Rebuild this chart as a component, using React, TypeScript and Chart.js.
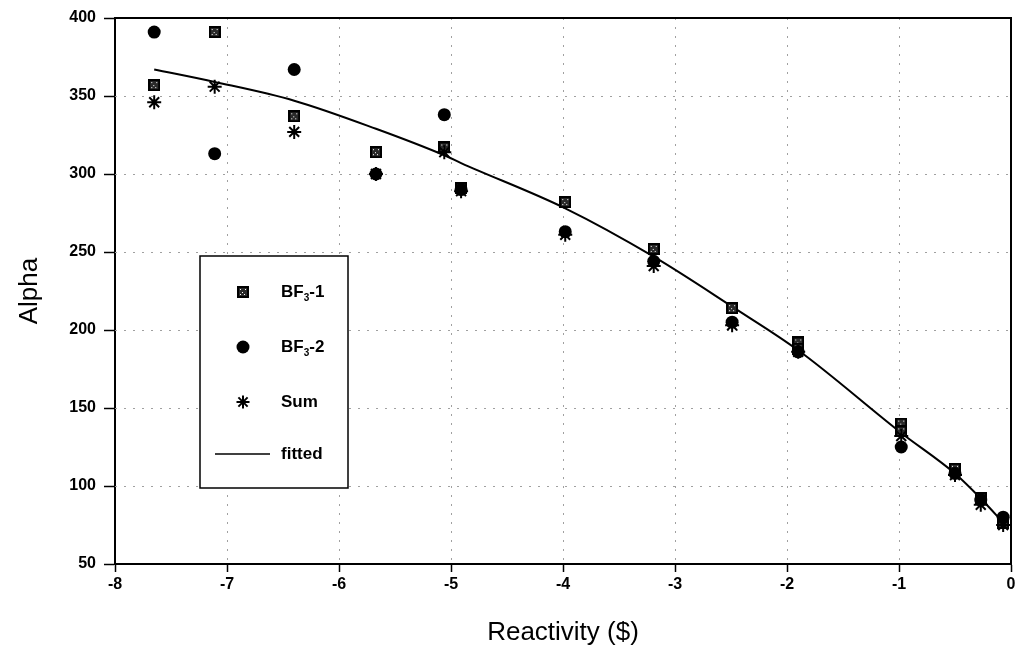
import React, { useEffect, useRef } from "react";
import { Chart, registerables } from "chart.js";

Chart.register(...registerables);

const xValues = [-7.65, -7.11, -6.40, -5.67, -5.06, -4.91, -3.98, -3.19, -2.49, -1.90, -0.98, -0.50, -0.27, -0.07];
const bf1Values = [357, 391, 337, 314, 317, 291, 282, 252, 214, 192, 140, 111, 92, 76];
const bf1ExtraX = [-0.98, -1.90];
const bf1ExtraY = [135, 188];
const bf2Values = [391, 313, 367, 300, 338, 290, 263, 244, 205, 186, 125, 108, 91, 80];
const sumValues = [346, 356, 327, 300, 314, 289, 261, 241, 203, 186, 132, 107, 88, 75];
const fitX = [-7.65, -7.11, -6.40, -5.67, -5.06, -4.91, -3.98, -3.19, -2.49, -1.90, -0.98, -0.50, -0.27, -0.05];
const fitY = [367, 359, 347, 329, 312, 307, 278, 247, 215, 187, 134, 108, 92, 75];
const xTicks = [-8, -7, -6, -5, -4, -3, -2, -1, 0];
const yTicks = [50, 100, 150, 200, 250, 300, 350, 400];

const FONT = "'Liberation Sans', Arial, Helvetica, sans-serif";

function makeSquare(): HTMLCanvasElement {
  const c = document.createElement("canvas");
  c.width = 12;
  c.height = 12;
  const g = c.getContext("2d")!;
  g.fillStyle = "#000";
  g.fillRect(0, 0, 12, 12);
  g.fillStyle = "#2a2a2a";
  g.fillRect(2, 2, 8, 8);
  g.fillStyle = "#fff";
  g.fillRect(3, 3, 1, 1);
  g.fillRect(8, 3, 1, 1);
  g.fillRect(5, 6, 1, 1);
  g.fillRect(3, 8, 1, 1);
  g.fillRect(7, 8, 1, 1);
  return c;
}

function pts(xs: number[], ys: number[]) {
  return xs.map((x, i) => ({ x, y: ys[i] }));
}

export default function App() {
  const ref = useRef<HTMLCanvasElement | null>(null);

  useEffect(() => {
    if (!ref.current) return;
    const square = makeSquare();

    const framePlugin = {
      id: "frameAndGrid",
      beforeDatasetsDraw(chart: any) {
        const { ctx, chartArea: a, scales } = chart;
        ctx.save();
        ctx.strokeStyle = "#a0a0a0";
        ctx.lineWidth = 1;
        ctx.setLineDash([2, 7]);
        for (const t of xTicks) {
          if (t === -8 || t === 0) continue;
          const px = Math.round(scales.x.getPixelForValue(t)) + 0.5;
          ctx.beginPath();
          ctx.moveTo(px, a.top);
          ctx.lineTo(px, a.bottom);
          ctx.stroke();
        }
        for (const t of yTicks) {
          if (t === 50 || t === 400) continue;
          const py = Math.round(scales.y.getPixelForValue(t)) + 0.5;
          ctx.beginPath();
          ctx.moveTo(a.left, py);
          ctx.lineTo(a.right, py);
          ctx.stroke();
        }
        ctx.restore();
      },
      afterDraw(chart: any) {
        const { ctx, chartArea: a } = chart;
        ctx.save();
        ctx.strokeStyle = "#000";
        ctx.lineWidth = 2;
        ctx.setLineDash([]);
        ctx.beginPath();
        ctx.moveTo(a.left, a.top);
        ctx.lineTo(a.right, a.top);
        ctx.lineTo(a.right, a.bottom);
        ctx.stroke();

        // legend
        const L = 200, T = 256, R = 348, B = 488;
        ctx.fillStyle = "#fff";
        ctx.fillRect(L, T, R - L, B - T);
        ctx.lineWidth = 1.5;
        ctx.strokeRect(L, T, R - L, B - T);

        const mx = 243;
        const tx = 281;
        const rows = [292, 347, 402, 454];
        ctx.drawImage(square, mx - 6, rows[0] - 6);
        ctx.fillStyle = "#000";
        ctx.beginPath();
        ctx.arc(mx, rows[1], 6.5, 0, Math.PI * 2);
        ctx.fill();
        ctx.lineWidth = 2;
        const r = 6.5;
        ctx.beginPath();
        ctx.moveTo(mx - r, rows[2]);
        ctx.lineTo(mx + r, rows[2]);
        ctx.moveTo(mx, rows[2] - r);
        ctx.lineTo(mx, rows[2] + r);
        const d = r * Math.SQRT1_2;
        ctx.moveTo(mx - d, rows[2] - d);
        ctx.lineTo(mx + d, rows[2] + d);
        ctx.moveTo(mx - d, rows[2] + d);
        ctx.lineTo(mx + d, rows[2] - d);
        ctx.stroke();
        ctx.lineWidth = 1.5;
        ctx.beginPath();
        ctx.moveTo(215, rows[3]);
        ctx.lineTo(270, rows[3]);
        ctx.stroke();

        ctx.textBaseline = "middle";
        ctx.textAlign = "left";
        const big = `bold 17px ${FONT}`;
        const small = `bold 10px ${FONT}`;
        const drawBF = (suffix: string, y: number) => {
          ctx.font = big;
          ctx.fillText("BF", tx, y);
          let w = ctx.measureText("BF").width;
          ctx.font = small;
          ctx.fillText("3", tx + w, y + 6);
          w += ctx.measureText("3").width;
          ctx.font = big;
          ctx.fillText(suffix, tx + w, y);
        };
        drawBF("-1", rows[0]);
        drawBF("-2", rows[1]);
        ctx.font = big;
        ctx.fillText("Sum", tx, rows[2]);
        ctx.fillText("fitted", tx, rows[3]);
        ctx.restore();
      },
    };

    const chart = new Chart(ref.current, {
      type: "scatter",
      data: {
        datasets: [
          {
            label: "fitted",
            type: "line",
            data: pts(fitX, fitY),
            borderColor: "#000",
            borderWidth: 2,
            pointRadius: 0,
            showLine: true,
            fill: false,
            cubicInterpolationMode: "monotone",
            order: 4,
          } as any,
          {
            label: "BF3-1",
            data: pts(xValues.concat(bf1ExtraX), bf1Values.concat(bf1ExtraY)),
            pointStyle: square,
            pointRadius: 6,
            order: 3,
          },
          {
            label: "BF3-2",
            data: pts(xValues, bf2Values),
            pointStyle: "circle",
            pointRadius: 6.5,
            backgroundColor: "#000",
            borderColor: "#000",
            borderWidth: 0,
            order: 2,
          },
          {
            label: "Sum",
            data: pts(xValues, sumValues),
            pointStyle: "star",
            pointRadius: 7,
            borderColor: "#000",
            backgroundColor: "#000",
            borderWidth: 2,
            order: 1,
          },
        ],
      },
      options: {
        responsive: false,
        animation: false,
        layout: { padding: { top: 18, right: 6, left: 0, bottom: 0 } },
        plugins: {
          legend: { display: false },
          tooltip: { enabled: false },
          title: { display: false },
        },
        scales: {
          x: {
            type: "linear",
            min: -8,
            max: 0,
            afterBuildTicks: (s: any) => {
              s.ticks = xTicks.map((v) => ({ value: v }));
            },
            afterFit: (s: any) => {
              s.height = 90;
              s.paddingRight = 0;
              s.paddingLeft = 0;
            },
            grid: {
              drawOnChartArea: false,
              drawTicks: true,
              tickLength: 8,
              tickColor: "#000",
              tickWidth: 1.5,
            },
            border: { display: true, color: "#000", width: 2 },
            ticks: {
              color: "#000",
              padding: 3,
              font: { family: FONT, size: 16, weight: "bold" },
              callback: (v: any) => String(v),
            },
            title: {
              display: true,
              text: "Reactivity ($)",
              color: "#000",
              font: { family: FONT, size: 26 },
              padding: { top: 0, bottom: 6 },
            },
          },
          y: {
            type: "linear",
            min: 50,
            max: 400,
            afterBuildTicks: (s: any) => {
              s.ticks = yTicks.map((v) => ({ value: v }));
            },
            afterFit: (s: any) => {
              s.width = 115;
              s.paddingTop = 0;
              s.paddingBottom = 0;
            },
            grid: {
              drawOnChartArea: false,
              drawTicks: true,
              tickLength: 11,
              tickColor: "#000",
              tickWidth: 1.5,
            },
            border: { display: true, color: "#000", width: 2 },
            ticks: {
              color: "#000",
              padding: 8,
              font: { family: FONT, size: 16, weight: "bold" },
              callback: (v: any) => String(v),
            },
            title: {
              display: true,
              text: "Alpha",
              color: "#000",
              font: { family: FONT, size: 26 },
              padding: { top: 14, bottom: 0 },
            },
          },
        },
      },
      plugins: [framePlugin],
    });
    return () => chart.destroy();
  }, []);

  return (
    <div style={{ position: "absolute", left: 0, top: 0, width: 1020, height: 654, background: "#fff" }}>
      <canvas ref={ref} width={1020} height={654} style={{ width: 1020, height: 654, display: "block" }} />
    </div>
  );
}
